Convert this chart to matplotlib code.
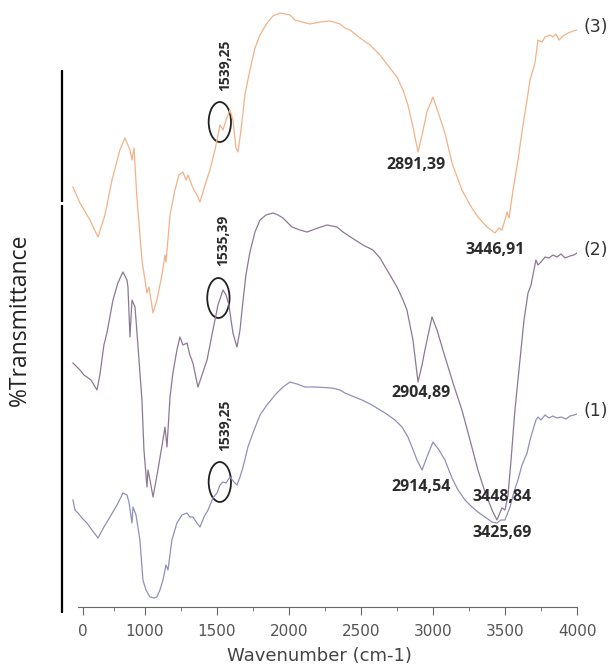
import matplotlib
matplotlib.use("Agg")
import matplotlib.pyplot as plt
from matplotlib.patches import Ellipse

# --- DATA (y is an arbitrary stacked offset) ---
wn3 = [500, 549, 618, 674, 722, 771, 826, 861, 896, 910, 924, 944, 979, 1014, 1028, 1056,
       1083, 1118, 1139, 1146, 1174, 1208, 1236, 1264, 1285, 1299, 1333, 1361, 1382, 1417,
       1451, 1486, 1521, 1542, 1563, 1590, 1611, 1632, 1646, 1667, 1694, 1729, 1764, 1799,
       1847, 1889, 1937, 2007, 2042, 2090, 2146, 2215, 2285, 2354, 2389, 2424, 2493, 2563,
       2632, 2701, 2750, 2792, 2826, 2861, 2896, 2924, 2958, 3000, 3035, 3083, 3132, 3201,
       3257, 3312, 3375, 3431, 3458, 3479, 3500, 3514, 3528, 3556, 3590, 3625, 3653, 3674,
       3688, 3708, 3729, 3757, 3778, 3812, 3833, 3854, 3875, 3903, 3938, 3972, 4000]
t3 = [420, 404, 387, 370, 392, 427, 457, 469, 457, 447, 459, 410, 347, 314, 320, 294,
      307, 332, 352, 345, 392, 417, 432, 435, 427, 432, 419, 412, 405, 422,
      437, 457, 482, 477, 487, 497, 487, 459, 455, 477, 512, 537, 559, 572,
      584, 591, 594, 592, 587, 585, 583, 585, 586, 583, 579, 577, 569, 562,
      552, 539, 530, 517, 502, 480, 455, 472, 495, 510, 495, 474, 444, 417,
      402, 390, 380, 374, 379, 377, 387, 395, 389, 417, 447, 482, 507, 527,
      534, 544, 567, 565, 570, 572, 570, 573, 567, 571, 574, 576, 577]

wn2 = [500, 528, 549, 576, 597, 625, 646, 667, 687, 715, 736, 778, 812, 847, 875, 882,
       896, 910, 931, 951, 979, 993, 1014, 1021, 1035, 1056, 1090, 1125, 1139, 1153, 1174,
       1194, 1222, 1243, 1264, 1292, 1312, 1333, 1368, 1396, 1431, 1472, 1507, 1542, 1563,
       1583, 1611, 1639, 1660, 1674, 1701, 1729, 1764, 1799, 1840, 1889, 1924, 1958, 2021,
       2076, 2125, 2181, 2264, 2333, 2375, 2438, 2514, 2583, 2632, 2681, 2750, 2792, 2819,
       2861, 2896, 2924, 2944, 2993, 3028, 3069, 3139, 3201, 3257, 3312, 3361, 3410, 3444,
       3479, 3500, 3521, 3542, 3569, 3604, 3632, 3660, 3681, 3694, 3715, 3729, 3750, 3778,
       3806, 3833, 3861, 3889, 3917, 3951, 3979, 4000]
t2 = [244, 240, 237, 232, 230, 227, 222, 217, 232, 262, 274, 307, 324, 335, 327, 320,
      270, 307, 300, 262, 207, 157, 120, 137, 127, 110, 137, 167, 180, 160, 210,
      234, 257, 270, 262, 264, 252, 244, 220, 232, 247, 277, 302, 317, 312,
      302, 274, 260, 277, 297, 332, 355, 375, 387, 392, 394, 392, 389, 380,
      377, 375, 378, 382, 380, 375, 369, 362, 357, 349, 337, 320, 307, 297,
      267, 225, 242, 257, 290, 277, 257, 224, 197, 167, 137, 115, 97, 87,
      99, 97, 112, 147, 197, 247, 287, 314, 322, 332, 347, 342, 345, 350,
      349, 352, 350, 353, 349, 351, 352, 354]

wn1 = [500, 514, 535, 563, 597, 632, 674, 715, 757, 806, 847, 875, 889, 910, 917, 938,
       965, 986, 1007, 1035, 1062, 1083, 1104, 1125, 1146, 1160, 1187, 1222, 1257, 1292,
       1312, 1333, 1361, 1382, 1410, 1438, 1472, 1500, 1521, 1542, 1563, 1590, 1618, 1639,
       1660, 1681, 1715, 1750, 1799, 1847, 1903, 1958, 2007, 2056, 2111, 2181, 2299, 2354,
       2389, 2438, 2507, 2576, 2667, 2736, 2785, 2826, 2854, 2889, 2924, 2958, 3000, 3042,
       3083, 3132, 3174, 3222, 3271, 3312, 3361, 3410, 3444, 3472, 3500, 3521, 3535, 3562,
       3590, 3618, 3653, 3674, 3694, 3715, 3729, 3750, 3778, 3806, 3833, 3861, 3889, 3924,
       3951, 3979, 4000]
t1 = [107, 97, 94, 89, 84, 77, 69, 80, 90, 102, 114, 112, 105, 84, 100, 92,
      67, 27, 17, 10, 9, 10, 17, 27, 42, 37, 67, 84, 92, 94,
      90, 90, 84, 80, 90, 97, 109, 114, 122, 125, 124, 130, 125, 122,
      130, 140, 160, 174, 192, 202, 212, 220, 225, 223, 220, 220, 219, 217,
      214, 211, 207, 202, 194, 187, 180, 170, 160, 147, 137, 150, 165, 157,
      147, 129, 117, 107, 100, 95, 90, 85, 84, 87, 87, 95, 100, 115,
      127, 142, 154, 167, 177, 187, 190, 187, 192, 189, 191, 189, 190, 188,
      191, 192, 193]

spectra = [(wn1, t1, '#9090bc', '(1)'), (wn2, t2, '#8d7893', '(2)'), (wn3, t3, '#f2b287', '(3)')]

# peak labels: (text, wavenumber, offset)
peak_labels = [('2891,39', 2880, 442), ('3446,91', 3430, 357),
               ('2904,89', 2920, 214), ('2914,54', 2920, 120),
               ('3448,84', 3480, 110), ('3425,69', 3480, 74)]
# rotated 1539 / 1535 labels with circles: (text, wavenumber, text y, circle y)
circled = [('1539,25', 1555, 542, 485), ('1535,39', 1545, 367, 309), ('1539,25', 1555, 182, 125)]

xticks = [569, 1000, 1500, 2000, 2500, 3000, 3500, 4000]
xtick_labels = ['0', '1000', '1500', '2000', '2500', '3000', '3500', '4000']
minor_ticks = [785, 1250, 1750, 2250, 2750, 3250, 3750]
# left axis bar pieces (one per trace)
left_bars = [(-6, 189), (189, 402), (405, 537)]

# --- PLOT ---
fig = plt.figure(figsize=(6.15, 6.69), dpi=100)
ax = fig.add_axes([62 / 615, 62 / 669, 515 / 615, 597 / 669])
ax.set_xlim(424, 4000)
ax.set_ylim(0, 597)

for wn, t, col, name in spectra:
    ax.plot(wn, t, color=col, linewidth=0.9)
    ax.text(wn[-1] + 45, t[-1] + 3, name, fontsize=12.5, color='#333333',
            va='center', ha='left', clip_on=False)

for txt, x, y in peak_labels:
    ax.text(x, y, txt, fontsize=11.5, fontweight='bold', color='#2b2b2b',
            ha='center', va='center', family='Open Sans')

for txt, x, ty, cy in circled:
    ax.text(x, ty, txt, fontsize=10, fontweight='bold', color='#2b2b2b', rotation=90,
            ha='center', va='center', family='Open Sans')
    ax.add_patch(Ellipse((x - 35, cy), 155, 40, fill=False, edgecolor='#222222', linewidth=1.3))

for y0, y1 in left_bars:
    ax.plot([0, 0], [y0, y1], color='black', linewidth=1.6,
            transform=ax.get_yaxis_transform(), clip_on=False, solid_capstyle='butt')

for s in ['top', 'right', 'left']:
    ax.spines[s].set_visible(False)
ax.spines['bottom'].set_bounds(535, 4000)
ax.spines['bottom'].set_color('#666666')
ax.set_yticks([])
ax.set_xticks(xticks)
ax.set_xticklabels(xtick_labels, fontsize=11, color='#555555')
ax.set_xticks(minor_ticks, minor=True)
ax.tick_params(axis='x', which='major', length=6, color='#666666', pad=6)
ax.tick_params(axis='x', which='minor', length=3, color='#666666')

ax.set_xlabel('Wavenumber (cm-1)', fontsize=13, color='#444444', labelpad=6)
fig.text(20 / 615, 1 - 320 / 669, '%Transmittance', rotation=90, fontsize=16.5,
         ha='center', va='center', color='#222222', family='Open Sans')

fig.savefig('out.png', dpi=100)
